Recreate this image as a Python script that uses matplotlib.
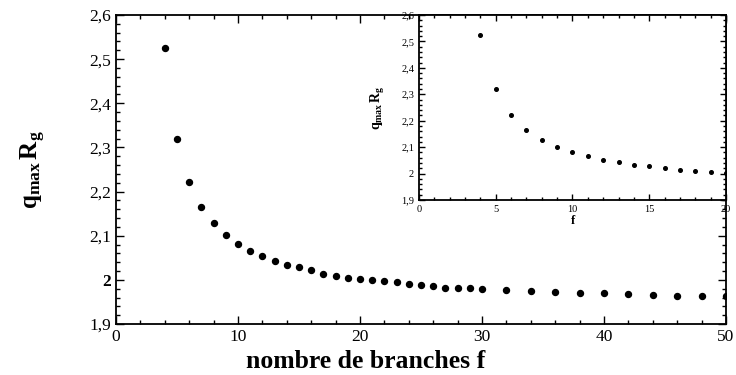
import numpy as np
import matplotlib
matplotlib.use('Agg')
import matplotlib.pyplot as plt
from matplotlib.ticker import MultipleLocator, FuncFormatter

plt.rcParams['font.family'] = ['Liberation Serif', 'DejaVu Serif']
plt.rcParams['mathtext.fontset'] = 'custom'
plt.rcParams['mathtext.rm'] = 'Liberation Serif'
plt.rcParams['mathtext.bf'] = 'Liberation Serif:bold'
plt.rcParams['mathtext.it'] = 'Liberation Serif:italic'

# q_max * R_g versus number of branches f
f = [4, 5, 6, 7, 8, 9, 10, 11, 12, 13, 14, 15, 16, 17, 18, 19, 20,
     21, 22, 23, 24, 25, 26, 27, 28, 29, 30, 32, 34, 36, 38, 40, 42,
     44, 46, 48, 50]
qR = [2.525, 2.319, 2.222, 2.166, 2.128, 2.102, 2.081, 2.065, 2.053,
      2.042, 2.033, 2.028, 2.022, 2.014, 2.009, 2.005, 2.001, 1.999,
      1.997, 1.995, 1.990, 1.988, 1.987, 1.982, 1.982, 1.982, 1.979,
      1.977, 1.975, 1.972, 1.970, 1.970, 1.968, 1.966, 1.963, 1.963,
      1.963]

xlab = 'nombre de branches f'
ylab = r'$\mathbf{q}_{\mathbf{max}}\,\mathbf{R}_{\mathbf{g}}$'


def comma(v, pos):
    s = ('%.1f' % v).rstrip('0').rstrip('.')
    return s.replace('.', ',')


def style(ax, xmaj, xmin, size, majlen, minlen):
    ax.xaxis.set_major_locator(MultipleLocator(xmaj))
    ax.xaxis.set_minor_locator(MultipleLocator(xmin))
    ax.yaxis.set_major_locator(MultipleLocator(0.1))
    ax.yaxis.set_minor_locator(MultipleLocator(0.02))
    ax.yaxis.set_major_formatter(FuncFormatter(comma))
    ax.tick_params(which='both', direction='in', top=True, right=True,
                   labelsize=size, width=1.0, color='black')
    ax.tick_params(which='major', length=majlen)
    ax.tick_params(which='minor', length=minlen)
    for sp in ax.spines.values():
        sp.set_linewidth(1.3)


fig = plt.figure(figsize=(7.36, 3.75), dpi=100)
ax = fig.add_axes([0.1576, 0.136, 0.8288, 0.824])
ax.plot(f, qR, 'o', color='black', ms=4.3)
ax.set_xlim(0, 50)
ax.set_ylim(1.9, 2.6)
style(ax, 10, 2, 12.5, 6, 3)
for t in ax.get_yticklabels():
    if t.get_text() == '2':
        t.set_fontweight('bold')
ax.set_xlabel(xlab, fontsize=18.5, fontweight='bold', labelpad=0)
ax.xaxis.set_label_coords(0.41, -0.085, transform=ax.transAxes)
ax.xaxis.label.set_va('top')
ax.set_ylabel(ylab, fontsize=18, labelpad=30)

# inset: first part of the curve
ins = fig.add_axes([0.5693, 0.4667, 0.4171, 0.4933])
ins.plot(f, qR, 'o', color='black', ms=2.6)
ins.set_xlim(0, 20)
ins.set_ylim(1.9, 2.6)
style(ins, 5, 1, 7.5, 4, 2)
ins.set_xlabel('f', fontsize=9, fontweight='bold', labelpad=1)
ins.set_ylabel(ylab, fontsize=10, labelpad=10)

fig.savefig('out.png', dpi=100)
